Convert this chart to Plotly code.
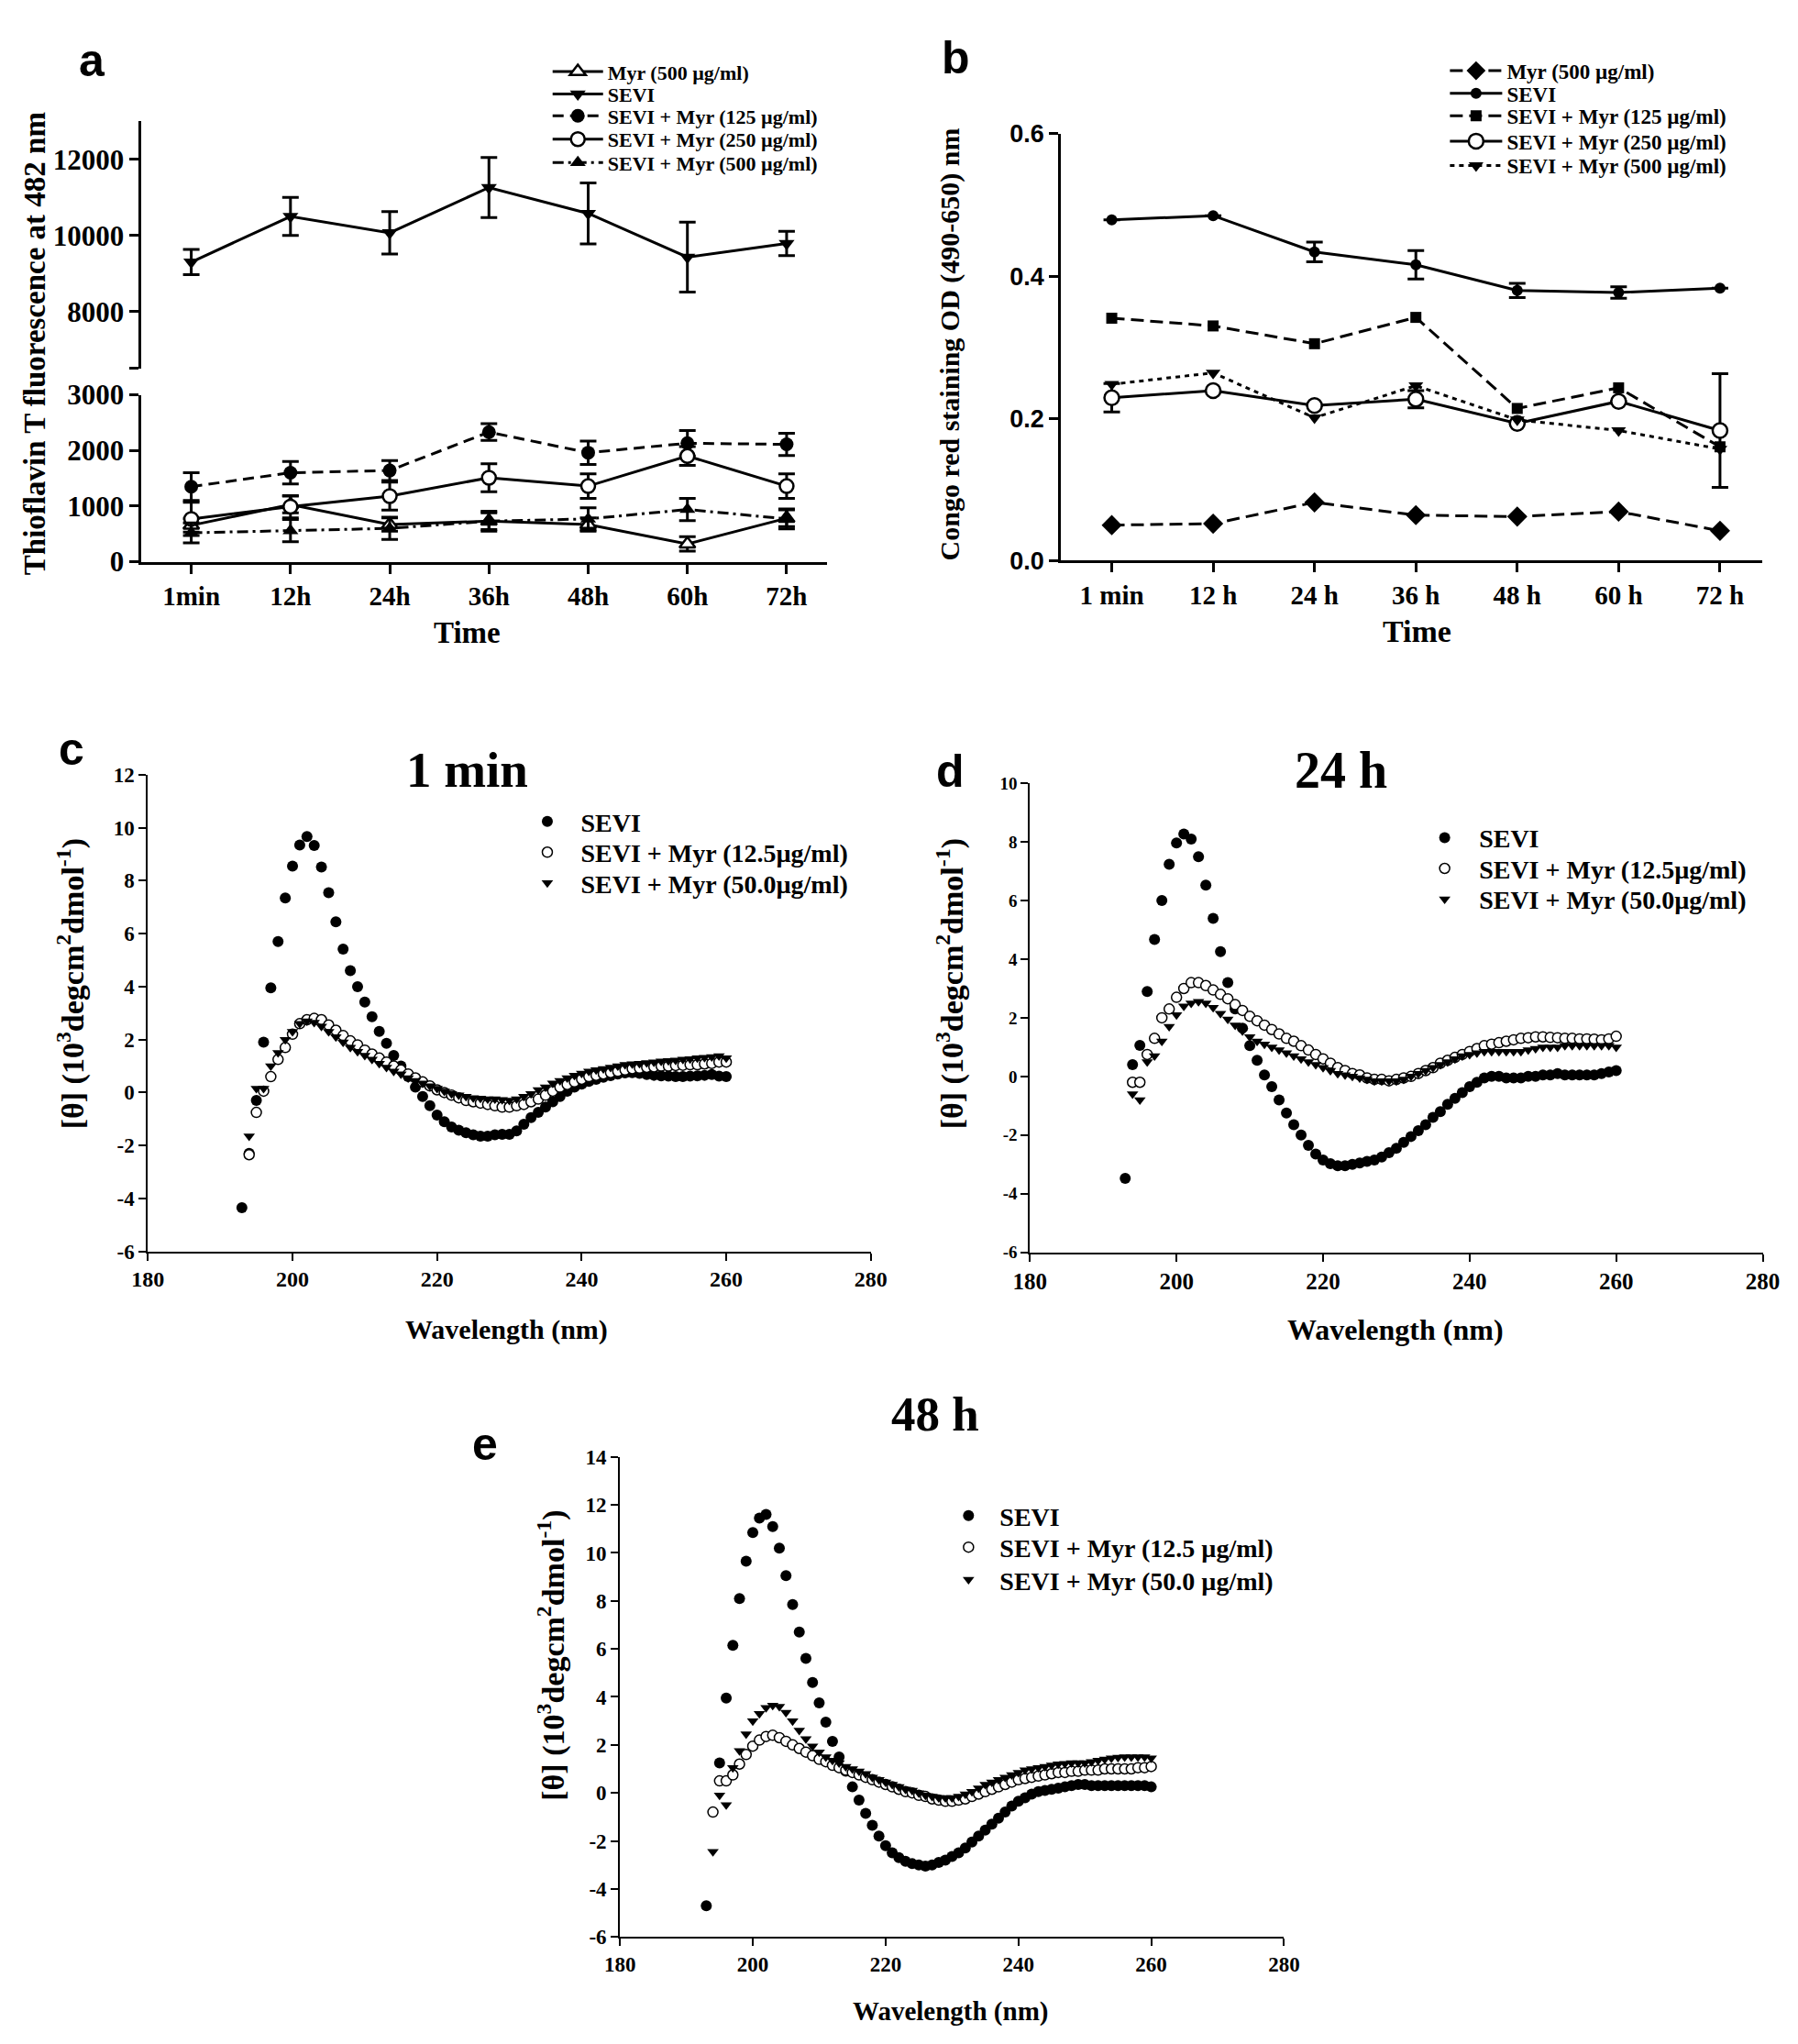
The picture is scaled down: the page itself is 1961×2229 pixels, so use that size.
import plotly.graph_objects as go

W, H = 1961, 2229
OFF = 8  # default page body margin
SERIF = "Liberation Serif, 'Times New Roman', serif"
SANS = "Liberation Sans, Arial, sans-serif"

# ---------------- Panel a data (Thioflavin T) ----------------
times_a = ["1min", "12h", "24h", "36h", "48h", "60h", "72h"]
a_myr500 = [655, 1028, 670, 730, 670, 320, 782]
a_myr500_err = [120, 150, 120, 150, 120, 130, 150]
a_sevi = [9300, 10500, 10070, 11260, 10580, 9430, 9790]
a_sevi_err = [330, 500, 560, 790, 800, 920, 320]
a_m125 = [1350, 1600, 1640, 2330, 1960, 2130, 2110]
a_m125_err = [250, 200, 180, 150, 210, 230, 200]
a_m250 = [770, 990, 1180, 1510, 1360, 1900, 1360]
a_m250_err = [300, 200, 250, 250, 220, 170, 220]
a_m500 = [520, 560, 600, 730, 770, 940, 770]
a_m500_err = [180, 200, 200, 180, 200, 200, 180]

# ---------------- Panel b data (Congo red) ----------------
times_b = ["1 min", "12 h", "24 h", "36 h", "48 h", "60 h", "72 h"]
b_myr500 = [0.050, 0.052, 0.082, 0.064, 0.062, 0.069, 0.042]
b_sevi = [0.479, 0.485, 0.434, 0.416, 0.380, 0.377, 0.383]
b_sevi_err = [0, 0, 0.014, 0.020, 0.010, 0.008, 0]
b_m125 = [0.341, 0.330, 0.305, 0.342, 0.214, 0.243, 0.160]
b_m250 = [0.229, 0.239, 0.218, 0.227, 0.193, 0.224, 0.183]
b_m250_err = [0.020, 0, 0, 0.012, 0, 0, 0.080]
b_m500 = [0.248, 0.264, 0.201, 0.246, 0.198, 0.183, 0.157]

# ---------------- CD spectra (193..260 nm) ----------------
wavelength = list(range(193, 261))

c_sevi = [-4.35, -2.3, -0.3, 1.9, 3.95, 5.7, 7.35, 8.55, 9.35, 9.67,
          9.33, 8.52, 7.55, 6.45, 5.42, 4.6, 4.0, 3.42, 2.86, 2.31,
          1.86, 1.4, 1.0, 0.6, 0.2, -0.15, -0.5, -0.85, -1.1, -1.3,
          -1.42, -1.52, -1.6, -1.65, -1.65, -1.6, -1.58, -1.58, -1.45, -1.2,
          -0.95, -0.75, -0.55, -0.35, -0.15, 0.05, 0.2, 0.32, 0.42, 0.5,
          0.58, 0.64, 0.7, 0.74, 0.75, 0.72, 0.68, 0.65, 0.63, 0.62,
          0.6, 0.6, 0.62, 0.63, 0.65, 0.68, 0.62, 0.6]
c_m125 = [None, -2.35, -0.75, 0.05, 0.6, 1.25, 1.7, 2.2, 2.6, 2.75,
          2.8, 2.75, 2.55, 2.35, 2.15, 1.95, 1.8, 1.6, 1.45, 1.3,
          1.15, 1.0, 0.85, 0.7, 0.55, 0.4, 0.25, 0.1, 0.0, -0.1,
          -0.2, -0.3, -0.35, -0.4, -0.45, -0.5, -0.55, -0.55, -0.5, -0.45,
          -0.35, -0.25, -0.1, 0.05, 0.2, 0.3, 0.4, 0.5, 0.6, 0.65,
          0.7, 0.75, 0.8, 0.85, 0.9, 0.92, 0.95, 0.97, 1.0, 1.0,
          1.02, 1.03, 1.05, 1.05, 1.08, 1.1, 1.15, 1.15]
c_m50 = [None, -1.65, 0.15, 0.15, 1.0, 1.5, 2.0, 2.3, 2.6, 2.7,
         2.65, 2.5, 2.3, 2.1, 1.9, 1.7, 1.55, 1.4, 1.25, 1.1,
         0.95, 0.8, 0.7, 0.55, 0.45, 0.35, 0.25, 0.15, 0.05, -0.05,
         -0.1, -0.15, -0.2, -0.22, -0.25, -0.25, -0.27, -0.3, -0.25, -0.15,
         -0.05, 0.1, 0.2, 0.35, 0.45, 0.55, 0.65, 0.72, 0.8, 0.85,
         0.9, 0.95, 1.0, 1.05, 1.08, 1.1, 1.12, 1.15, 1.18, 1.2,
         1.22, 1.25, 1.27, 1.3, 1.32, 1.35, 1.38, 1.3]

d_sevi = [-3.48, 0.4, 1.06, 2.9, 4.67, 6.0, 7.24, 7.97, 8.27, 8.1,
          7.5, 6.53, 5.39, 4.26, 3.2, 2.3, 1.65, 1.05, 0.55, 0.05,
          -0.35, -0.8, -1.25, -1.65, -2.0, -2.35, -2.65, -2.85, -2.98, -3.05,
          -3.05, -3.0, -2.95, -2.9, -2.85, -2.75, -2.6, -2.45, -2.25, -2.05,
          -1.85, -1.65, -1.4, -1.2, -0.95, -0.75, -0.55, -0.35, -0.2, -0.05,
          0.0, 0.0, -0.05, -0.05, -0.05, 0.0, 0.0, 0.05, 0.05, 0.1,
          0.05, 0.05, 0.05, 0.05, 0.05, 0.1, 0.15, 0.2]
d_m125 = [None, -0.2, -0.2, 0.75, 1.3, 2.0, 2.3, 2.7, 3.0, 3.2,
          3.2, 3.1, 2.95, 2.8, 2.65, 2.45, 2.25, 2.05, 1.9, 1.75,
          1.6, 1.45, 1.3, 1.2, 1.05, 0.9, 0.75, 0.6, 0.45, 0.3,
          0.2, 0.1, 0.05, -0.05, -0.1, -0.1, -0.15, -0.1, -0.05, 0.0,
          0.1, 0.2, 0.3, 0.45, 0.55, 0.65, 0.75, 0.85, 0.95, 1.05,
          1.1, 1.15, 1.2, 1.25, 1.3, 1.32, 1.35, 1.35, 1.33, 1.32,
          1.3, 1.3, 1.28, 1.28, 1.27, 1.25, 1.28, 1.37]
d_m50 = [None, -0.6, -0.8, 0.5, 0.7, 1.2, 1.7, 2.1, 2.4, 2.5,
         2.55, 2.5, 2.35, 2.15, 1.95, 1.75, 1.55, 1.35, 1.2, 1.1,
         1.0, 0.9, 0.8, 0.7, 0.6, 0.5, 0.4, 0.3, 0.2, 0.1,
         0.05, 0.0, -0.05, -0.1, -0.15, -0.15, -0.15, -0.15, -0.1, 0.0,
         0.1, 0.2, 0.3, 0.4, 0.5, 0.6, 0.7, 0.75, 0.8, 0.85,
         0.85, 0.85, 0.85, 0.85, 0.85, 0.9, 0.95, 1.0, 1.0, 1.0,
         1.05, 1.05, 1.05, 1.05, 1.05, 1.05, 1.05, 1.0]

e_sevi = [-4.7, None, 1.25, 3.95, 6.15, 8.1, 9.65, 10.85, 11.45, 11.6,
          11.1, 10.2, 9.05, 7.85, 6.7, 5.6, 4.6, 3.75, 2.95, 2.15,
          1.5, 0.9, 0.25, -0.3, -0.85, -1.35, -1.8, -2.2, -2.5, -2.7,
          -2.85, -2.95, -3.0, -3.05, -3.0, -2.9, -2.8, -2.65, -2.5, -2.3,
          -2.05, -1.8, -1.55, -1.3, -1.05, -0.8, -0.55, -0.35, -0.2, -0.05,
          0.05, 0.1, 0.15, 0.2, 0.25, 0.3, 0.35, 0.35, 0.3, 0.3,
          0.3, 0.3, 0.3, 0.3, 0.3, 0.3, 0.3, 0.25]
e_m125 = [None, -0.8, 0.5, 0.5, 0.75, 1.2, 1.6, 1.95, 2.2, 2.35,
          2.4, 2.3, 2.15, 2.0, 1.85, 1.7, 1.55, 1.4, 1.3, 1.15,
          1.05, 0.95, 0.85, 0.75, 0.65, 0.55, 0.45, 0.35, 0.25, 0.15,
          0.05, 0.0, -0.1, -0.15, -0.25, -0.3, -0.35, -0.35, -0.3, -0.25,
          -0.15, -0.05, 0.05, 0.15, 0.25, 0.35, 0.45, 0.55, 0.6, 0.65,
          0.7, 0.75, 0.8, 0.85, 0.85, 0.9, 0.9, 0.95, 0.95, 0.95,
          1.0, 1.0, 1.0, 1.0, 1.0, 1.05, 1.05, 1.1]
e_m50 = [None, -2.45, -0.1, -0.5, 1.05, 1.75, 2.45, 3.0, 3.3, 3.55,
         3.65, 3.6, 3.35, 3.0, 2.6, 2.25, 1.95, 1.7, 1.5, 1.35,
         1.25, 1.1, 1.0, 0.9, 0.8, 0.65, 0.55, 0.45, 0.35, 0.25,
         0.15, 0.1, 0.0, -0.1, -0.15, -0.2, -0.2, -0.2, -0.15, -0.05,
         0.05, 0.2, 0.35, 0.45, 0.55, 0.65, 0.75, 0.85, 0.95, 1.0,
         1.05, 1.1, 1.15, 1.2, 1.22, 1.25, 1.25, 1.25, 1.3, 1.35,
         1.4, 1.45, 1.48, 1.5, 1.5, 1.5, 1.5, 1.45]

# tick labels
a_low_ticks = [0, 1000, 2000, 3000]
a_up_ticks = [6500, 8000, 10000, 12000]
a_up_ticktext = ["", "8000", "10000", "12000"]
b_ticks = [0.0, 0.2, 0.4, 0.6]
b_ticktext = ["0.0", "0.2", "0.4", "0.6"]
wl_ticks = [180, 200, 220, 240, 260, 280]
c_ticks = [-6, -4, -2, 0, 2, 4, 6, 8, 10, 12]
d_ticks = [-6, -4, -2, 0, 2, 4, 6, 8, 10]
e_ticks = [-6, -4, -2, 0, 2, 4, 6, 8, 10, 12, 14]

ab_names = ["Myr (500 \u00b5g/ml)", "SEVI", "SEVI + Myr (125 \u00b5g/ml)",
            "SEVI + Myr (250 \u00b5g/ml)", "SEVI + Myr (500 \u00b5g/ml)"]
cd_names = ["SEVI", "SEVI + Myr (12.5\u00b5g/ml)", "SEVI + Myr (50.0\u00b5g/ml)"]
e_names = ["SEVI", "SEVI + Myr (12.5 \u00b5g/ml)", "SEVI + Myr (50.0 \u00b5g/ml)"]


def fx(px):
    return (px - OFF) / W


def fy(py):
    return 1 - (py - OFF) / H


fig = go.Figure()
legends = {}
counter = [0]


def add(trace, lx, ly, fsize, iw):
    """Add trace with its own one-item legend placed at (lx, ly) in pixels."""
    counter[0] += 1
    k = counter[0]
    key = "legend" if k == 1 else "legend%d" % k
    trace.update(legend=key)
    fig.add_trace(trace)
    legends[key] = dict(x=fx(lx), y=fy(ly), xanchor="left", yanchor="middle",
                        bgcolor="rgba(0,0,0,0)", borderwidth=0, itemwidth=iw,
                        font=dict(family=SERIF, size=fsize, color="black", weight="bold"))


def err(arr, w=3, cap=9):
    return dict(type="data", array=arr, visible=True, color="black", thickness=w, width=cap)


# ---- panel a traces ----
A_ROWS = [62, 87, 111, 137, 163]
A_X, A_F, A_IW = 590, 22, 55
add(go.Scatter(x=times_a, y=a_myr500, name=ab_names[0], mode="lines+markers", xaxis="x", yaxis="y",
               line=dict(color="black", width=3),
               marker=dict(symbol="triangle-up", size=15, color="white", line=dict(color="black", width=2.5)),
               error_y=err(a_myr500_err)), A_X, A_ROWS[0], A_F, A_IW)
add(go.Scatter(x=times_a, y=a_sevi, name=ab_names[1], mode="lines+markers", xaxis="x", yaxis="y2",
               line=dict(color="black", width=3),
               marker=dict(symbol="triangle-down", size=15, color="black"),
               error_y=err(a_sevi_err)), A_X, A_ROWS[1], A_F, A_IW)
add(go.Scatter(x=times_a, y=a_m125, name=ab_names[2], mode="lines+markers", xaxis="x", yaxis="y",
               line=dict(color="black", width=3, dash="12px,7px"),
               marker=dict(symbol="circle", size=15, color="black"),
               error_y=err(a_m125_err)), A_X, A_ROWS[2], A_F, A_IW)
add(go.Scatter(x=times_a, y=a_m250, name=ab_names[3], mode="lines+markers", xaxis="x", yaxis="y",
               line=dict(color="black", width=3),
               marker=dict(symbol="circle", size=15, color="white", line=dict(color="black", width=2.5)),
               error_y=err(a_m250_err)), A_X, A_ROWS[3], A_F, A_IW)
add(go.Scatter(x=times_a, y=a_m500, name=ab_names[4], mode="lines+markers", xaxis="x", yaxis="y",
               line=dict(color="black", width=3, dash="12px,5px,3px,5px"),
               marker=dict(symbol="triangle-up", size=15, color="black"),
               error_y=err(a_m500_err)), A_X, A_ROWS[4], A_F, A_IW)

# ---- panel b traces ----
B_ROWS = [61, 86, 111, 139, 166]
B_X, B_F, B_IW = 1588, 23, 57
add(go.Scatter(x=times_b, y=b_myr500, name=ab_names[0], mode="lines+markers", xaxis="x2", yaxis="y3",
               line=dict(color="black", width=3, dash="14px,7px"),
               marker=dict(symbol="diamond", size=17, color="black")), B_X, B_ROWS[0], B_F, B_IW)
add(go.Scatter(x=times_b, y=b_sevi, name=ab_names[1], mode="lines+markers", xaxis="x2", yaxis="y3",
               line=dict(color="black", width=3),
               marker=dict(symbol="circle", size=12, color="black"),
               error_y=err(b_sevi_err)), B_X, B_ROWS[1], B_F, B_IW)
add(go.Scatter(x=times_b, y=b_m125, name=ab_names[2], mode="lines+markers", xaxis="x2", yaxis="y3",
               line=dict(color="black", width=3, dash="14px,7px"),
               marker=dict(symbol="square", size=12, color="black")), B_X, B_ROWS[2], B_F, B_IW)
add(go.Scatter(x=times_b, y=b_m250, name=ab_names[3], mode="lines+markers", xaxis="x2", yaxis="y3",
               line=dict(color="black", width=3),
               marker=dict(symbol="circle", size=16, color="white", line=dict(color="black", width=2.5)),
               error_y=err(b_m250_err)), B_X, B_ROWS[3], B_F, B_IW)
add(go.Scatter(x=times_b, y=b_m500, name=ab_names[4], mode="lines+markers", xaxis="x2", yaxis="y3",
               line=dict(color="black", width=3, dash="5px,5px"),
               marker=dict(symbol="triangle-down", size=14, color="black")), B_X, B_ROWS[4], B_F, B_IW)


# ---- CD panels ----
def cd_traces(xa, ya, s1, s2, s3, names, lx, rows, fsize, iw):
    add(go.Scatter(x=wavelength, y=s1, name=names[0], mode="markers", xaxis=xa, yaxis=ya,
                   marker=dict(symbol="circle", size=12, color="black")), lx, rows[0], fsize, iw)
    add(go.Scatter(x=wavelength, y=s2, name=names[1], mode="markers", xaxis=xa, yaxis=ya,
                   marker=dict(symbol="circle", size=11, color="white", line=dict(color="black", width=1.5))),
        lx, rows[1], fsize, iw)
    add(go.Scatter(x=wavelength, y=s3, name=names[2], mode="markers", xaxis=xa, yaxis=ya,
                   marker=dict(symbol="triangle-down", size=11, color="black")), lx, rows[2], fsize, iw)


cd_traces("x3", "y4", c_sevi, c_m125, c_m50, cd_names, 552, [893, 927, 961], 28, 63)
cd_traces("x4", "y5", d_sevi, d_m125, d_m50, cd_names, 1549, [911, 945, 979], 28, 65)
cd_traces("x5", "y6", e_sevi, e_m125, e_m50, e_names, 1023, [1662, 1697, 1733], 28, 58)


def axis(domain, anchor, lw=3, tl=10, fsize=26, family=SERIF, **kw):
    d = dict(domain=domain, anchor=anchor, showgrid=False, zeroline=False, showline=True,
             linecolor="black", linewidth=lw, ticks="outside", tickcolor="black", tickwidth=lw,
             ticklen=tl, tickfont=dict(family=family, size=fsize, color="black", weight="bold"))
    d.update(kw)
    return d


fig.update_layout(
    width=W, height=H, margin=dict(l=0, r=0, t=0, b=0),
    paper_bgcolor="white", plot_bgcolor="white", showlegend=True,
    xaxis=axis([fx(138), fx(900.6)], "y", type="category", range=[-0.5, 6.41], fsize=29),
    yaxis=axis([fy(605), fy(420)], "x", range=[0, 3000], tickvals=a_low_ticks, fsize=31),
    yaxis2=axis([fy(391), fy(117)], "x", range=[6500, 13000], tickvals=a_up_ticks,
                ticktext=a_up_ticktext, fsize=31),
    xaxis2=axis([fx(1160.6), fx(1940.8)], "y3", type="category", range=[-0.5, 6.42], fsize=29),
    yaxis3=axis([fy(603.8), fy(130.9)], "x2", range=[0, 0.6], tickvals=b_ticks, ticktext=b_ticktext,
                fsize=27, family=SANS),
    xaxis3=axis([fx(145), fx(949)], "y4", lw=2, tl=8, fsize=24, range=[180, 280], tickvals=wl_ticks),
    yaxis4=axis([fy(1369), fy(841)], "x3", lw=2, tl=8, fsize=23, range=[-6, 12], tickvals=c_ticks,
                ticktext=[str(v) for v in c_ticks]),
    xaxis4=axis([fx(1126), fx(1941)], "y5", lw=2, tl=8, fsize=25, range=[180, 280], tickvals=wl_ticks),
    yaxis5=axis([fy(1370), fy(850.5)], "x4", lw=2, tl=8, fsize=19, range=[-6, 10], tickvals=d_ticks,
                ticktext=[str(v) for v in d_ticks]),
    xaxis5=axis([fx(670), fx(1408.6)], "y6", lw=2, tl=8, fsize=23, range=[180, 280], tickvals=wl_ticks),
    yaxis6=axis([fy(2128.5), fy(1596.7)], "x5", lw=2, tl=8, fsize=23, range=[-6, 14], tickvals=e_ticks,
                ticktext=[str(v) for v in e_ticks]),
    **legends,
)


def note(text, x, y, size, family=SERIF, angle=0):
    fig.add_annotation(text=text, x=fx(x), y=fy(y), xref="paper", yref="paper", showarrow=False,
                       xanchor="center", yanchor="middle", textangle=angle,
                       font=dict(family=family, size=size, color="black", weight="bold"))


theta = "[\u03b8] (10<sup>3</sup>degcm<sup>2</sup>dmol<sup>-1</sup>)"
note("Thioflavin T fluorescence at 482 nm", 20, 363, 33, angle=-90)
note("Time", 500, 684, 33)
note("Congo red staining OD (490-650) nm", 1037, 364, 30, angle=-90)
note("Time", 1556, 682, 34)
note(theta, 59, 1073, 34, angle=-90)
note("Wavelength (nm)", 544, 1456, 30)
note("1 min", 500, 836, 55)
note(theta, 1037, 1073, 34, angle=-90)
note("Wavelength (nm)", 1533, 1456, 32)
note("24 h", 1472, 836, 56)
note(theta, 593.5, 1817, 34, angle=-90)
note("Wavelength (nm)", 1037, 2211, 29)
note("48 h", 1021, 1549, 53)
for letter, x, y in [("a", 83, 50), ("b", 1044, 47), ("c", 60, 813), ("d", 1037, 837), ("e", 520, 1583)]:
    note(letter, x, y, 50, family=SANS)

fig.write_html("out.html")
